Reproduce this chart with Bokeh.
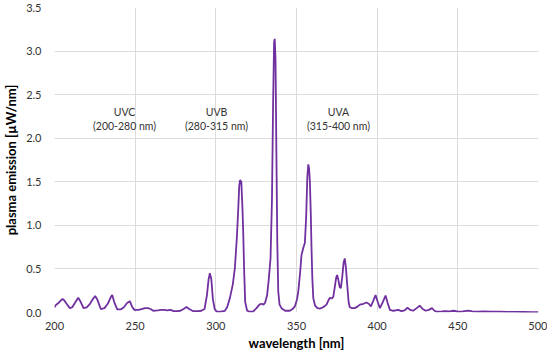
from bokeh.plotting import figure
from bokeh.models import Label, SingleIntervalTicker, NumeralTickFormatter, ColumnDataSource, Range1d
from bokeh.embed import file_html
from bokeh.resources import INLINE

wavelength = [
    200, 201, 202.5, 204, 205, 206, 207.5, 209.5, 211, 213, 214.7, 216, 218, 220, 222, 224, 225.2, 226.5,
    228.7, 231, 233, 235, 235.8, 237, 238.9, 241, 243, 245, 246.7, 248, 249.5, 252, 254, 256, 258, 259.5,
    261.2, 264, 266.3, 268, 270, 272, 273.8, 276, 278, 280, 281.8, 283.5, 286, 289, 291, 293, 294.5, 295.5,
    296.3, 297.2, 298.2, 299.3, 300.5, 303, 305.6, 307, 308.7, 310.5, 311.8, 313, 313.9, 314.5, 315, 315.8,
    316.5, 317, 317.6, 318.2, 319.4, 321, 323.1, 325.2, 327, 328.2, 329.5, 330.5, 331.8, 332.8, 333.9, 334.8,
    335.5, 336.1, 336.5, 337.0, 337.5, 338.1, 338.7, 339.5, 340.7, 343, 345.9, 347.5, 349, 350.3, 351.1,
    352.2, 353.1, 354.2, 355.2, 356, 356.7, 357.3, 357.8, 358.3, 358.9, 359.3, 359.8, 360.4, 361.5, 363,
    364.5, 366.5, 368.6, 369.8, 370.7, 371.8, 372.8, 373.8, 374.6, 375.2, 375.9, 376.8, 377.5, 378.3, 379.2,
    379.9, 380.6, 381.6, 382.3, 383, 384.5, 386.1, 388, 389.3, 391.5, 393.4, 394.8, 396.1, 397.5, 399, 400.2,
    401.7, 403.5, 405.2, 406.5, 407.9, 410, 411.5, 413, 415.1, 417, 418.8, 420.5, 422.3, 424.5, 426.4, 428.2,
    430.1, 432, 434, 435.5, 436.8, 440, 442, 445, 447.5, 450.2, 453, 456.4, 459, 462, 466, 471, 476, 481,
    486, 491, 496, 500,
]
emission = [
    0.06, 0.09, 0.11, 0.14, 0.155, 0.14, 0.10, 0.05, 0.06, 0.12, 0.17, 0.13, 0.05, 0.06, 0.10, 0.16, 0.19, 0.15,
    0.04, 0.05, 0.10, 0.18, 0.20, 0.12, 0.035, 0.035, 0.06, 0.11, 0.13, 0.07, 0.03, 0.03, 0.04, 0.05, 0.05, 0.04,
    0.02, 0.025, 0.03, 0.03, 0.025, 0.03, 0.015, 0.015, 0.02, 0.04, 0.063, 0.04, 0.015, 0.015, 0.02, 0.04, 0.20, 0.38,
    0.45, 0.38, 0.15, 0.04, 0.01, 0.01, 0.02, 0.06, 0.165, 0.32, 0.51, 0.85, 1.19, 1.45, 1.52, 1.50,
    1.20, 0.90, 0.45, 0.12, 0.02, 0.01, 0.01, 0.05, 0.09, 0.10, 0.09, 0.11, 0.20, 0.38, 0.62, 1.30,
    2.40, 3.10, 3.14, 2.90, 1.90, 0.80, 0.24, 0.09, 0.05, 0.02, 0.02, 0.04, 0.07, 0.15, 0.24,
    0.45, 0.66, 0.74, 0.80, 1.10, 1.55, 1.70, 1.65, 1.50, 1.10, 0.74, 0.40, 0.165, 0.08, 0.05,
    0.045, 0.06, 0.09, 0.14, 0.17, 0.16, 0.18, 0.30, 0.40, 0.43, 0.38, 0.29, 0.28, 0.40, 0.57,
    0.62, 0.52, 0.28, 0.12, 0.06, 0.05, 0.05, 0.07, 0.09, 0.10, 0.115, 0.10, 0.07, 0.13, 0.20, 0.13,
    0.05, 0.12, 0.195, 0.11, 0.03, 0.02, 0.025, 0.03, 0.015, 0.025, 0.055, 0.03, 0.02, 0.05, 0.078, 0.04,
    0.02, 0.03, 0.05, 0.02, 0.01, 0.012, 0.015, 0.012, 0.02, 0.01, 0.012, 0.022, 0.012, 0.01, 0.012, 0.01, 0.009, 0.008,
    0.007, 0.006, 0.005, 0.005,
]

band_names = ["UVC", "UVB", "UVA"]
band_ranges = ["(200-280 nm)", "(280-315 nm)", "(315-400 nm)"]
band_label_x = [243.4, 300.4, 376.0]
band_name_y = 2.30
band_range_y = 2.14

FONT = "Lato"

p = figure(frame_width=484, frame_height=305, x_range=Range1d(200, 500), y_range=Range1d(0, 3.5),
           output_backend="svg", toolbar_location=None,
           min_border_left=45, min_border_right=9, min_border_top=7, min_border_bottom=30)
p.outline_line_color = None
p.background_fill_color = "white"

src = ColumnDataSource(data=dict(x=wavelength, y=emission))
p.line("x", "y", source=src, line_color="#7030A0", line_width=1.8)

for ax in (p.xaxis[0], p.yaxis[0]):
    ax.axis_line_color = None
    ax.major_tick_line_color = None
    ax.minor_tick_line_color = None
    ax.major_tick_out = 0
    ax.major_tick_in = 0
    ax.major_label_text_font = FONT
    ax.major_label_text_font_size = "11px"
    ax.major_label_text_color = "#333333"
    ax.axis_label_text_font = FONT
    ax.axis_label_text_font_size = "13px"
    ax.axis_label_text_font_style = "bold"
    ax.axis_label_text_color = "#000000"

p.xaxis.ticker = SingleIntervalTicker(interval=50)
p.yaxis.ticker = SingleIntervalTicker(interval=0.5)
p.yaxis.formatter = NumeralTickFormatter(format="0.0")
p.xaxis.axis_label = "wavelength [nm]"
p.yaxis.axis_label = "plasma emission [µW/nm]"
p.xaxis.major_label_standoff = 5
p.xaxis.axis_label_standoff = 2
p.yaxis.major_label_standoff = 9
p.yaxis.axis_label_standoff = 4

p.xgrid.grid_line_color = "#dcdcdc"
p.ygrid.grid_line_color = "#dcdcdc"
p.xgrid.grid_line_width = 1
p.ygrid.grid_line_width = 1

for name, rng, bx in zip(band_names, band_ranges, band_label_x):
    p.add_layout(Label(x=bx, y=band_name_y, text=name, text_align="center", text_baseline="middle",
                       text_font=FONT, text_font_size="10.5px", text_color="#333333"))
    p.add_layout(Label(x=bx, y=band_range_y, text=rng, text_align="center", text_baseline="middle",
                       text_font=FONT, text_font_size="10.5px", text_color="#333333"))

open("out.html", "w").write(file_html(p, INLINE))
